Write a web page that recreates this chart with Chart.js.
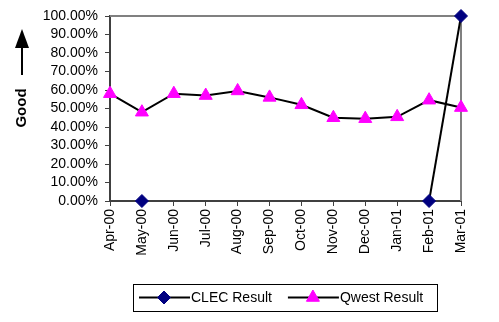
<!doctype html>
<html lang="en">
  <head>
    <meta charset="utf-8">
    <title>CLEC vs Qwest</title>
    <style>
      * { margin: 0; padding: 0; }
      body { background: #fff; }
      .chartBox { width: 499px; height: 322px; }
    </style>
  </head>
  <body>
    <div class="chartBox">
      <canvas id="myChart" width="499" height="322"></canvas>
    </div>
    <script src="https://cdn.jsdelivr.net/npm/chart.js/dist/chart.umd.min.js"></script>
    <script>
    // data
    const months = ['Apr-00', 'May-00', 'Jun-00', 'Jul-00', 'Aug-00', 'Sep-00',
                    'Oct-00', 'Nov-00', 'Dec-00', 'Jan-01', 'Feb-01', 'Mar-01'];
    const clecResult = [null, 0, null, null, null, null, null, null, null, null, 0, 100];
    const qwestResult = [58, 48, 58, 57, 59.5, 56, 52, 45, 44.5, 45.5, 54.5, 50.5];
    const yTicks = [0, 10, 20, 30, 40, 50, 60, 70, 80, 90, 100];

    const FONT = 'Liberation Sans, Arial, sans-serif';

    // frame on top/right + "Good" arrow + legend
    const extras = {
      id: 'extras',
      beforeDatasetsDraw(chart) {
        const ctx = chart.ctx;
        const a = chart.chartArea;
        ctx.save();
        // plot area border (top + right)
        ctx.strokeStyle = '#808080';
        ctx.lineWidth = 2;
        ctx.beginPath();
        ctx.moveTo(a.left, a.top);
        ctx.lineTo(a.right, a.top);
        ctx.lineTo(a.right, a.bottom);
        ctx.stroke();
        ctx.restore();
      },
      afterDraw(chart) {
        const ctx = chart.ctx;
        ctx.save();
        // Good arrow
        ctx.fillStyle = '#000';
        ctx.strokeStyle = '#000';
        ctx.lineWidth = 2;
        ctx.beginPath();
        ctx.moveTo(22, 48);
        ctx.lineTo(22, 75);
        ctx.stroke();
        ctx.beginPath();
        ctx.moveTo(22, 29);
        ctx.lineTo(15, 48);
        ctx.lineTo(29, 48);
        ctx.closePath();
        ctx.fill();
        ctx.translate(22, 108);
        ctx.rotate(-Math.PI / 2);
        ctx.font = 'bold 15px ' + FONT;
        ctx.textAlign = 'center';
        ctx.textBaseline = 'middle';
        ctx.fillText('Good', 0, 0);
        ctx.restore();

        // legend
        ctx.save();
        const bx = 133, by = 284, bw = 304, bh = 27;
        ctx.strokeStyle = '#000';
        ctx.lineWidth = 1;
        ctx.strokeRect(bx + 0.5, by + 0.5, bw, bh);
        ctx.font = '14px ' + FONT;
        ctx.textBaseline = 'middle';
        const ly = by + 13.5;
        let x = bx + 6;
        chart.data.datasets.forEach((ds) => {
          ctx.strokeStyle = ds.borderColor;
          ctx.lineWidth = 2;
          ctx.beginPath();
          ctx.moveTo(x, ly);
          ctx.lineTo(x + 51, ly);
          ctx.stroke();
          ctx.fillStyle = ds.pointBackgroundColor;
          ctx.strokeStyle = ds.pointBorderColor;
          ctx.lineWidth = 1;
          Chart.helpers.drawPoint(ctx, {
            pointStyle: ds.pointStyle,
            radius: ds.pointRadius,
            borderWidth: 1
          }, x + 25, ly);
          ctx.fillStyle = '#000';
          ctx.fillText(ds.label, x + 52, ly + 1);
          x += 52 + ctx.measureText(ds.label).width + 16;
        });
        ctx.restore();
      }
    };

    // setup
    const data = {
      labels: months,
      datasets: [{
        label: 'CLEC Result',
        data: clecResult,
        borderColor: '#000000',
        borderWidth: 2,
        pointStyle: 'rectRot',
        pointRadius: 6.5,
        pointBackgroundColor: '#000080',
        pointBorderColor: '#000080',
        pointBorderWidth: 1,
        spanGaps: false,
        clip: false,
        tension: 0
      }, {
        label: 'Qwest Result',
        data: qwestResult,
        borderColor: '#000000',
        borderWidth: 2,
        pointStyle: 'triangle',
        pointRadius: 7.5,
        pointBackgroundColor: '#FF00FF',
        pointBorderColor: '#FF00FF',
        pointBorderWidth: 1,
        clip: false,
        tension: 0
      }]
    };

    // config
    const config = {
      type: 'line',
      data,
      plugins: [extras],
      options: {
        responsive: false,
        animation: false,
        layout: { padding: { top: 16, right: 38, left: 0, bottom: 0 } },
        plugins: {
          legend: { display: false },
          tooltip: { enabled: false }
        },
        scales: {
          x: {
            offset: false,
            grid: { display: true, drawOnChartArea: false, tickLength: 5, color: '#404040', lineWidth: 1 },
            border: { display: true, color: '#404040', width: 2 },
            ticks: {
              minRotation: 90, maxRotation: 90, autoSkip: false, padding: 3,
              color: '#000', font: { family: FONT, size: 14 }
            },
            afterFit(scale) { scale.height = 121; }
          },
          y: {
            min: 0, max: 100,
            afterBuildTicks(scale) { scale.ticks = yTicks.map(v => ({ value: v })); },
            grid: { display: true, drawOnChartArea: false, tickLength: 5, color: '#404040', lineWidth: 1 },
            border: { display: true, color: '#404040', width: 2 },
            ticks: {
              autoSkip: false,
              padding: 7, color: '#000', font: { family: FONT, size: 14 },
              callback: v => v.toFixed(2) + '%'
            },
            afterFit(scale) { scale.width = 110; }
          }
        }
      }
    };

    // render init block
    const myChart = new Chart(document.getElementById('myChart'), config);
    </script>
  </body>
</html>
